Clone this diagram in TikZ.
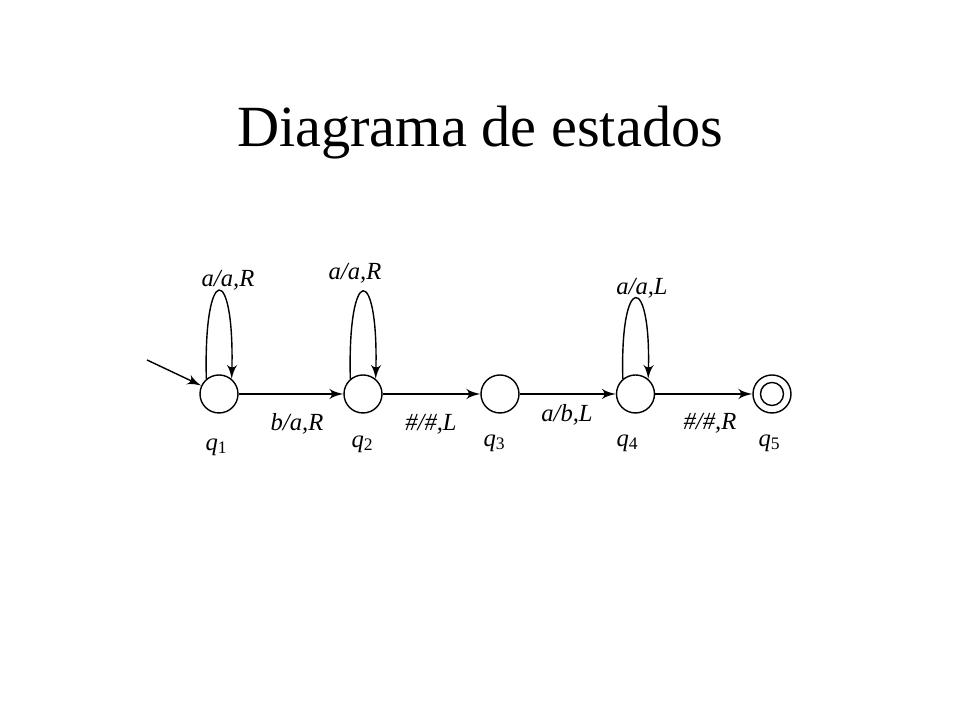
\documentclass[tikz,border=0pt]{standalone}
\usepackage{fontspec}
\setmainfont{Liberation Serif}
\usetikzlibrary{arrows}
\tikzset{>=latex'}
\tikzset{state/.style = {draw, circle, inner sep = 0, minimum size = 0.38cm}}
\tikzset{inner/.style = {draw, circle, inner sep = 0, minimum size = 0.23cm}}
\tikzset{lbl/.style = {font = \fontsize{7}{8}\selectfont\itshape, inner sep = 0}}
\newcommand{\qname}[1]{{\itshape q}\textsubscript{\upshape #1}}

\begin{document}
\begin{tikzpicture}
      \useasboundingbox (0, 0) rectangle (9.6, 7.2);
      \node at (4.80, 5.73) [anchor=base, font=\fontsize{16.6}{20}\selectfont] {Diagrama de estados};
      % states
      \node [state] (q1) at (2.19, 3.26) {};
      \node [state] (q2) at (3.63, 3.26) {};
      \node [state] (q3) at (5.00, 3.26) {};
      \node [state] (q4) at (6.355, 3.26) {};
      \node [state] (q5) at (7.72, 3.26) {};
      \node [inner] (q5in) at (q5) {};
      \node [lbl] at (2.17, 2.73) {\qname{1}};
      \node [lbl] at (3.63, 2.76) {\qname{2}};
      \node [lbl] at (4.95, 2.77) {\qname{3}};
      \node [lbl] at (6.28, 2.77) {\qname{4}};
      \node [lbl] at (7.70, 2.77) {\qname{5}};
      % start
      \coordinate (start) at (1.47, 3.60);
      \draw [->] (start) -- (q1);
      % transitions
      \draw [->] (q1) -- (q2);
      \draw [->] (q2) -- (q3);
      \draw [->] (q3) -- (q4);
      \draw [->] (q4) -- (q5);
      \draw [->] (q1.130) .. controls +(-0.03, 1.17) and +(0.03, 1.17) .. (q1.50);
      \draw [->] (q2.130) .. controls +(-0.03, 1.16) and +(0.03, 1.16) .. (q2.50);
      \draw [->] (q4.130) .. controls +(-0.03, 1.07) and +(0.03, 1.07) .. (q4.50);
      \node [lbl] at (2.28, 4.40) {a/a,R};
      \node [lbl] at (3.55, 4.47) {a/a,R};
      \node [lbl] at (6.42, 4.32) {a/a,L};
      \node [lbl] at (2.97, 2.96) {b/a,R};
      \node [lbl] at (4.31, 2.96) {\#/\#,L};
      \node [lbl] at (5.67, 3.05) {a/b,L};
      \node [lbl] at (7.10, 2.97) {\#/\#,R};
\end{tikzpicture}
\end{document}
